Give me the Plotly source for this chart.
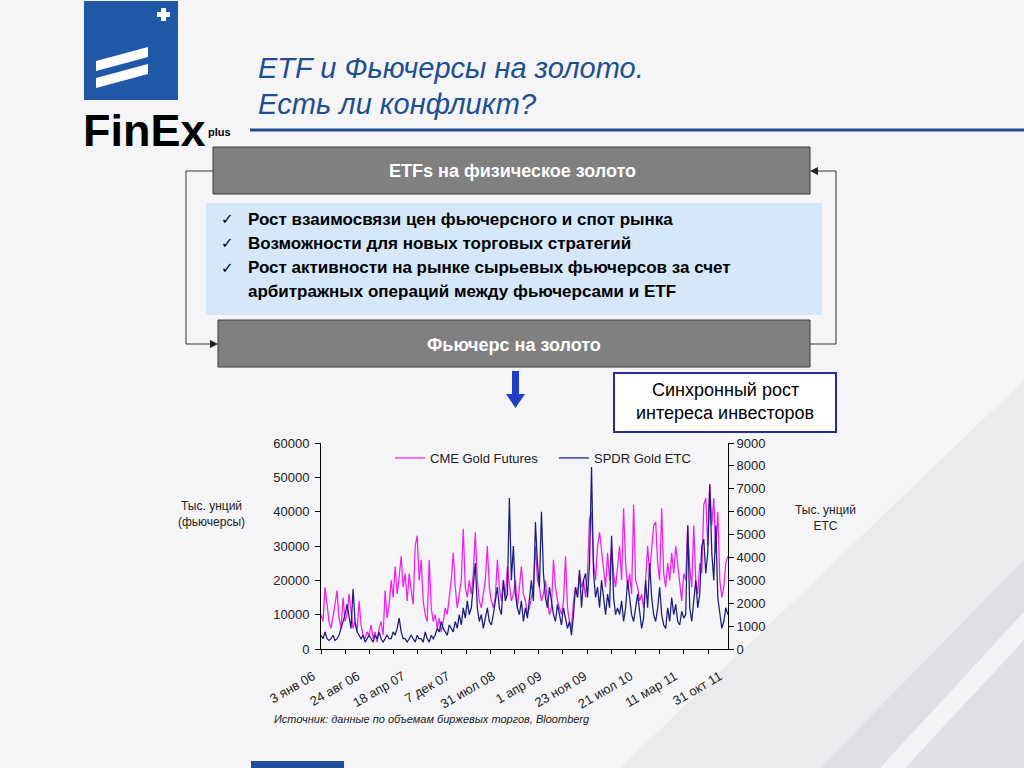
import pandas as pd
import plotly.graph_objects as go

# ---------------- data ----------------
# CME Gold Futures, thousand ounces (left axis), roughly evenly spaced in time
cme_k = [10, 8, 18, 12, 8, 6, 9, 13, 17, 9, 6, 15, 8, 10, 16, 11, 6, 8, 5, 14,
         7, 4, 3, 5, 4, 7, 3, 5, 2, 6, 8, 4, 17, 9, 13, 20, 15, 24, 16, 21,
         27, 18, 22, 14, 22, 17, 13, 30, 33, 20, 26, 14,
         10, 8, 26, 12, 8, 10, 6, 9, 5, 8, 12, 10, 15, 20, 28, 18, 12, 16, 20, 35,
         18, 15, 20, 16, 22, 34, 20, 14, 12, 16, 20, 30, 18, 14, 12, 15, 26, 18, 14, 20,
         15, 24, 18, 14, 16, 20, 12, 18, 24, 16, 14, 10, 12, 15, 18, 30, 20, 18, 14, 16,
         20, 14, 10, 12, 26, 18, 14, 12, 10, 14, 27, 12, 8, 6,
         14, 18, 15, 22, 18, 20, 15, 22, 38, 40, 25, 20, 30, 34, 28, 22, 18, 28, 20, 30,
         22, 18, 25, 30, 20, 41, 25, 18, 22, 16, 42, 20, 18, 14, 16, 12, 20, 30, 22, 28,
         36, 37, 25, 20, 41, 22, 18, 25, 20, 28, 22, 30, 24, 18, 14, 22, 20, 36, 24, 18,
         36, 20, 16, 25, 22, 42, 44, 30, 48, 36, 44, 28, 40, 20, 15, 18, 25, 27]

# SPDR Gold ETC, thousand ounces (right axis)
spdr = [600, 450, 750, 450, 375, 450, 600, 375, 450, 600, 900, 1200, 1500, 1950, 1350, 900,
        2625, 1200, 750, 600, 450, 600, 300, 450, 600, 450, 300, 600, 450, 750, 450, 300,
        450, 600, 450, 450, 750, 600, 900, 1350, 750, 450, 450, 300, 450, 600, 450, 300,
        600, 450, 450, 300,
        750, 450, 300, 600, 450, 600, 900, 750, 1200, 900, 750, 600, 1050, 900, 750, 1200,
        900, 1500, 1050, 1800, 1350, 2100, 1500, 1800, 2700, 3750, 1800, 1200, 1500, 900,
        1350, 1800, 1200, 1050, 1500, 2100, 2700, 1800, 1500, 3000, 2100, 2400, 6600, 3000,
        4500, 2400, 1800, 1500, 2100, 1200, 1800, 1350, 2250, 3000, 2100, 5550, 3750, 2700,
        6000, 3300, 2250, 1800, 2700, 2100, 1500, 1200, 1950, 1500, 1050, 1800, 1350, 900,
        1200, 600,
        1500, 2700, 2250, 3450, 1800, 3000, 3300, 2250, 3750, 7950, 3300, 2250, 2700, 1800,
        3000, 2100, 1500, 2400, 1800, 4950, 2250, 1500, 1800, 1500, 2100, 1200, 1800, 3000,
        2250, 1500, 1200, 1800, 2400, 1650, 900, 1350, 3000, 1800, 3750, 2250, 1500, 1200,
        1800, 2700, 1500, 1050, 900, 1800, 1200, 2250, 1500, 1950, 1200, 1050, 1650, 1350,
        1500, 5400, 1800, 1200, 2100, 3000, 1800, 2400, 4500, 4800, 3300, 4200, 7200, 4200,
        3000, 5400, 2250, 1500, 900, 1200, 1800, 1500]

start_date = "2006-01-03"
end_date = "2011-10-31"
tick_dates = ["2006-01-03", "2006-08-24", "2007-04-18", "2007-12-07", "2008-07-31",
              "2009-04-01", "2009-11-23", "2010-07-21", "2011-03-11", "2011-10-31"]
tick_text = ["3 янв 06", "24 авг 06", "18 апр 07", "7 дек 07", "31 июл 08",
             "1 апр 09", "23 ноя 09", "21 июл 10", "11 мар 11", "31 окт 11"]

bullets = ["Рост взаимосвязи цен фьючерсного и спот рынка",
           "Возможности для новых торговых стратегий",
           "Рост активности на рынке сырьевых фьючерсов за счет",
           "арбитражных операций между фьючерсами и ETF"]

# ---------------- figure ----------------
W, H = 1024, 768
FONT = "Liberation Sans, Arial, sans-serif"
BLUE_T = "#1d4f91"


def px(x):
    return x / W


def py(y):
    return 1 - y / H


cme = [v * 1000 for v in cme_k]
dates_cme = pd.date_range(start_date, end_date, periods=len(cme))
dates_spdr = pd.date_range(start_date, end_date, periods=len(spdr))

fig = go.Figure()
fig.add_trace(go.Scatter(x=dates_cme, y=cme, mode="lines", name="CME Gold Futures",
                         line=dict(color="#f01ef0", width=1.25), yaxis="y"))
fig.add_trace(go.Scatter(x=dates_spdr, y=spdr, mode="lines", name="SPDR Gold ETC",
                         line=dict(color="#1c1c7c", width=1.25), yaxis="y2"))

xdom = [px(321), px(728)]
ydom = [py(649), py(443)]
dtick_ms = 126.5 * 86400000
xr = [start_date, "2011-11-01"]

common = dict(automargin=False, showgrid=False, zeroline=False)

fig.update_layout(
    width=W, height=H,
    margin=dict(l=0, r=0, t=0, b=0, pad=0, autoexpand=False),
    paper_bgcolor="#f5f5f7",
    plot_bgcolor="rgba(0,0,0,0)",
    font=dict(family=FONT, size=13, color="#222"),
    showlegend=True,
    legend=dict(orientation="h", x=px(390), y=py(443), xanchor="left", yanchor="top",
                bgcolor="rgba(0,0,0,0)", font=dict(size=13, color="#222"),
                itemwidth=30, traceorder="normal",
                entrywidth=119, entrywidthmode="pixels"),
    xaxis=dict(domain=xdom, anchor="y", type="date", range=xr,
               tickmode="array", tickvals=tick_dates, ticktext=tick_text,
               tickangle=-30, ticks="", ticklabelstandoff=14, ticklabelshift=-8,
               showline=True, linecolor="#000", linewidth=1,
               tickfont=dict(size=13, color="#222"),
               minor=dict(ticks="outside", ticklen=4, tickcolor="#000",
                          tick0=start_date, dtick=dtick_ms, showgrid=False),
               **common),
    xaxis2=dict(domain=xdom, anchor="y", overlaying="x", type="date", range=xr,
                showticklabels=False, ticks="", showline=False,
                minor=dict(ticks="inside", ticklen=4, tickcolor="#000",
                           tick0=start_date, dtick=dtick_ms, showgrid=False),
                **common),
    yaxis=dict(domain=ydom, anchor="x", range=[0, 60000], dtick=10000, tickformat="d",
               ticks="outside", ticklen=5, tickcolor="#000", ticklabelstandoff=3,
               showline=True, linecolor="#000", linewidth=1,
               tickfont=dict(size=13, color="#222"), **common),
    yaxis2=dict(domain=ydom, anchor="x", overlaying="y", side="right",
                range=[0, 9000], dtick=1000, tickformat="d", ticks="outside", ticklen=5,
                tickcolor="#000", showline=True,
                linecolor="#000", linewidth=1, tickfont=dict(size=13, color="#222"),
                **common),
    yaxis3=dict(domain=ydom, anchor="x", overlaying="y", side="left",
                range=[0, 60000], dtick=10000, ticks="inside", ticklen=5,
                tickcolor="#000", showticklabels=False, showline=False, **common),
    yaxis4=dict(domain=ydom, anchor="x", overlaying="y", side="right",
                range=[0, 9000], dtick=1000, ticks="inside", ticklen=5,
                tickcolor="#000", showticklabels=False, showline=False, **common),
)

shapes = []


def rect(x0, y0, x1, y1, fill, line_color=None, lw=0, layer="below"):
    shapes.append(dict(type="rect", xref="paper", yref="paper",
                       x0=px(x0), x1=px(x1), y0=py(y1), y1=py(y0),
                       fillcolor=fill, layer=layer,
                       line=dict(color=line_color or fill, width=lw)))


def poly(points, fill, layer="below", line_color=None, lw=0):
    d = "M " + " L ".join(f"{px(a):.5f},{py(b):.5f}" for a, b in points) + " Z"
    shapes.append(dict(type="path", xref="paper", yref="paper", path=d,
                       fillcolor=fill, layer=layer,
                       line=dict(color=line_color or fill, width=lw)))


def polyline(points, color, lw=1):
    d = "M " + " L ".join(f"{px(a):.5f},{py(b):.5f}" for a, b in points)
    shapes.append(dict(type="path", xref="paper", yref="paper", path=d,
                       line=dict(color=color, width=lw), layer="above"))


# background shading
poly([(620, 768), (1024, 768), (1024, 380)], "#ebebee")
poly([(820, 768), (1024, 768), (1024, 560)], "#e0e0e4")
poly([(880, 768), (905, 768), (1024, 640), (1024, 612)], "#f4f4f6")

# logo
rect(84, 1, 178, 100, "#1f58a6", layer="above")
poly([(96, 61), (148, 47), (148, 57), (96, 71)], "#ffffff", layer="above")
poly([(96, 78), (148, 64), (148, 74), (96, 88)], "#ffffff", layer="above")
rect(161, 8, 166, 21, "#ffffff", layer="above")
rect(157, 12, 170, 17, "#ffffff", layer="above")

# title underline
shapes.append(dict(type="line", xref="paper", yref="paper", x0=px(250), x1=1,
                   y0=py(130), y1=py(130), line=dict(color=BLUE_T, width=3)))

# diagram boxes
rect(213, 147, 810, 194, "#808080", "#3a3a3a", 1, layer="above")
rect(206, 203, 822, 315, "#d5e7f8", layer="above")
rect(218, 320, 810, 367, "#808080", "#3a3a3a", 1, layer="above")

# connector lines with arrowheads
polyline([(213, 171), (186, 171), (186, 344), (212, 344)], "#333", 1)
poly([(218, 344), (210, 340), (210, 348)], "#222", layer="above")
polyline([(810, 344), (836, 344), (836, 171), (816, 171)], "#333", 1)
poly([(810, 171), (818, 167), (818, 175)], "#222", layer="above")

# blue arrow down
poly([(512, 371), (519, 371), (519, 394), (525, 394), (515.5, 408), (506, 394), (512, 394)],
     "#1f3fc4", layer="above")

# synchronous growth box
rect(614, 373, 836, 432, "#ffffff", "#2a2a9c", 2, layer="above")

# bottom blue bar
rect(251, 761, 344, 768, "#1f4e9a", layer="above")

fig.update_layout(shapes=shapes)

ann = []


def text(x, y, s, size, color="#000", xanchor="left", bold=False, italic=False,
         yanchor="middle", align="left", family=FONT):
    if bold:
        s = f"<b>{s}</b>"
    if italic:
        s = f"<i>{s}</i>"
    ann.append(dict(x=px(x), y=py(y), xref="paper", yref="paper", text=s,
                    showarrow=False, xanchor=xanchor, yanchor=yanchor, align=align,
                    font=dict(size=size, color=color, family=family)))


# logo text
text(81, 130, "FinEx", 45, "#000", bold=True, family="Liberation Sans, Arial")
text(206, 132, "plus", 11, "#000", bold=True)

# title
text(256, 68, "ETF и Фьючерсы на золото.", 29, BLUE_T, italic=True)
text(256, 104, "Есть ли конфликт?", 29, BLUE_T, italic=True)

# boxes text
text(512, 171, "ETFs на физическое золото", 18, "#ffffff", xanchor="center", bold=True)
text(514, 345, "Фьючерс на золото", 18, "#ffffff", xanchor="center", bold=True)
ys = [219, 243, 268, 292]
for i, (yy, b) in enumerate(zip(ys, bullets)):
    if i < 3:
        text(219, yy, "✓", 15, "#000", family="DejaVu Sans")
    text(246, yy, b, 17, "#000", bold=True)

text(725, 390, "Синхронный рост", 18, "#000", xanchor="center")
text(725, 413, "интереса инвесторов", 18, "#000", xanchor="center")

# axis titles
text(211, 514, "Тыс. унций<br>(фьючерсы)", 12, "#222", xanchor="center", align="center")
text(825, 518, "Тыс. унций<br>ETC", 12, "#222", xanchor="center", align="center")

# source
text(272, 719, "Источник: данные по объемам биржевых торгов, Bloomberg", 11, "#222",
     italic=True)

fig.update_layout(annotations=ann)

fig.write_html("out.html", config={"displayModeBar": False},
               post_script="document.body.style.margin='0';")
